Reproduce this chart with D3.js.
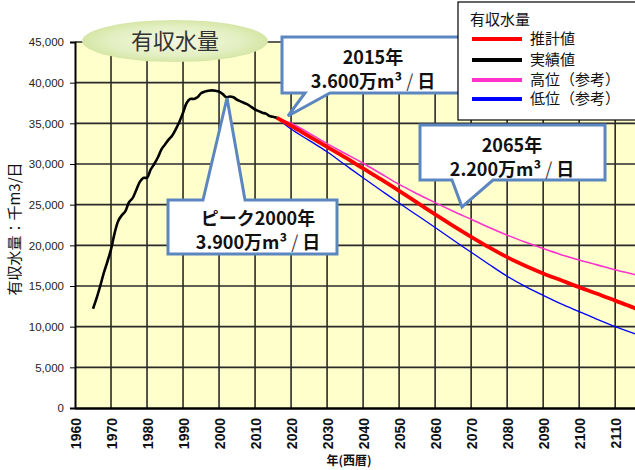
<!DOCTYPE html>
<html><head><meta charset="utf-8">
<script src="https://cdn.jsdelivr.net/npm/d3@7"></script>
<style>
html,body{margin:0;padding:0;background:#fff;}
svg{display:block;}
</style></head>
<body>
<script>
// ---- data ----
const actualYears = [1965,1966,1967,1968,1969,1970,1971,1972,1973,1974,1975,1976,1977,1978,1979,1980,1981,1982,1983,1984,1985,1986,1987,1988,1989,1990,1991,1992,1993,1994,1995,1996,1997,1998,1999,2000,2001,2002,2003,2004,2005,2006,2007,2008,2009,2010,2011,2012,2013,2014,2015,2016];
const actualValues = [12200,13500,15000,16600,18000,19500,21500,23000,23700,24200,25300,25800,26800,27800,28300,28300,29300,30000,30800,31800,32400,33000,33500,34300,35200,36300,37500,38000,38000,38200,38700,38900,39000,39050,39000,38900,38600,38200,38300,38200,37900,37700,37500,37300,37000,36700,36500,36300,36200,35900,35800,35700];
const projYears = [2016,2020,2025,2030,2035,2040,2045,2050,2055,2060,2065,2070,2075,2080,2085,2090,2095,2100,2105,2110,2115,2116];
const estimateValues = [35700,34700,33400,32100,30800,29450,28100,26700,25250,23800,22400,21050,19750,18550,17500,16550,15700,14850,14050,13200,12350,12150];
const highValues = [35700,35000,33800,32500,31300,30100,28800,27500,26350,25250,24200,23200,22200,21250,20400,19600,18850,18200,17600,17000,16450,16350];
const lowValues = [35700,34300,32900,31500,29900,28300,26750,25200,23700,22200,20650,19150,17650,16200,14950,13850,12800,11850,10900,10000,9200,9050];
const yTicks = [0,5000,10000,15000,20000,25000,30000,35000,40000,45000];
const xTicks = [1960,1970,1980,1990,2000,2010,2020,2030,2040,2050,2060,2070,2080,2090,2100,2110];
const legendLabels = ["推計値","実績値","高位（参考）","低位（参考）"];
const legendColors = ["#ff0000","#000000","#ff33cc","#0000ff"];

const W=635,H=470;
const svg=d3.select("body").append("svg").attr("width",W).attr("height",H);
const x=d3.scaleLinear().domain([1960,2115.5]).range([75,635]);
const y=d3.scaleLinear().domain([0,45000]).range([408,42]);

const defs=svg.append("defs");
defs.append("clipPath").attr("id","plotclip").append("rect")
  .attr("x",x(1960)).attr("y",y(45000)-2).attr("width",W-x(1960)).attr("height",y(0)-y(45000)+2);
const rg=defs.append("radialGradient").attr("id","ellg").attr("cx","50%").attr("cy","50%").attr("r","50%");
rg.append("stop").attr("offset","0%").attr("stop-color","#f3f8e0");
rg.append("stop").attr("offset","70%").attr("stop-color","#e3efc2");
rg.append("stop").attr("offset","100%").attr("stop-color","#d6e6a6");

// plot background
svg.append("rect").attr("x",x(1960)).attr("y",y(45000)).attr("width",W-x(1960)).attr("height",y(0)-y(45000)).attr("fill","#ffffcc");

// grid
const grid=svg.append("g").attr("stroke","#2a2a2a").attr("stroke-width",1.6);
grid.selectAll("line.h").data(yTicks.filter(d=>d>0)).join("line")
  .attr("x1",x(1960)).attr("x2",W).attr("y1",d=>y(d)).attr("y2",d=>y(d));
grid.selectAll("line.v").data(xTicks.filter(d=>d>1960)).join("line")
  .attr("x1",d=>x(d)).attr("x2",d=>x(d)).attr("y1",y(45000)).attr("y2",y(0));

// axes
const yAxis=svg.append("g").attr("transform",`translate(${x(1960)},0)`)
  .call(d3.axisLeft(y).tickValues(yTicks).tickSize(5).tickPadding(6).tickFormat(d3.format(",")));
yAxis.select(".domain").attr("stroke","#000").attr("stroke-width",2);
yAxis.selectAll(".tick line").attr("stroke","#000");
yAxis.selectAll("text").attr("font-family","Arial, 'Liberation Sans', sans-serif").attr("font-size",11.5).attr("fill","#222");

const xAxis=svg.append("g").attr("transform",`translate(0,${y(0)})`)
  .call(d3.axisBottom(x).tickValues(xTicks).tickSize(0).tickFormat(d3.format("d")));
xAxis.select(".domain").attr("stroke","#000").attr("stroke-width",2.5);
xAxis.selectAll("text").attr("font-family","Arial, 'Liberation Sans', sans-serif").attr("font-size",14).attr("font-weight","bold").attr("fill","#111")
  .attr("text-anchor","end").attr("transform","rotate(-90)").attr("x",-10).attr("y",0).attr("dy","0.36em");

// axis titles
svg.append("text").attr("transform",`translate(20,229) rotate(-90)`).attr("text-anchor","middle")
  .attr("font-family","'Noto Sans CJK JP', sans-serif").attr("font-size",15).attr("fill","#111").text("有収水量：千m3/日");
svg.append("text").attr("x",349).attr("y",465).attr("text-anchor","middle")
  .attr("font-family","'Noto Sans CJK JP', sans-serif").attr("font-size",12).attr("font-weight","bold").attr("fill","#111").text("年(西暦)");

// lines
const line=d3.line().x(d=>x(d[0])).y(d=>y(d[1])).curve(d3.curveMonotoneX);
const lines=svg.append("g").attr("clip-path","url(#plotclip)").attr("fill","none").attr("stroke-linejoin","round");
lines.append("path").datum(projYears.map((t,i)=>[t,highValues[i]])).attr("d",line).attr("stroke","#ff33cc").attr("stroke-width",1.6);
lines.append("path").datum(projYears.map((t,i)=>[t,lowValues[i]])).attr("d",line).attr("stroke","#0000ff").attr("stroke-width",1.3);
lines.append("path").datum(projYears.map((t,i)=>[t,estimateValues[i]])).attr("d",line).attr("stroke","#ff0000").attr("stroke-width",3.8);
lines.append("path").datum(actualYears.map((t,i)=>[t,actualValues[i]])).attr("d",d3.line().x(d=>x(d[0])).y(d=>y(d[1])).curve(d3.curveCatmullRom)).attr("stroke","#000").attr("stroke-width",2.6);

// title ellipse
svg.append("ellipse").attr("cx",175).attr("cy",41).attr("rx",93).attr("ry",21).attr("fill","url(#ellg)");
svg.append("text").attr("x",175).attr("y",49).attr("text-anchor","middle")
  .attr("font-family","'Noto Sans CJK JP', sans-serif").attr("font-size",22).attr("fill","#333").text("有収水量");

// callouts
const cs="#5b86bf";
function callout(pts,txt){
  svg.append("path").attr("d","M"+pts.map(p=>p.join(",")).join("L")+"Z")
    .attr("fill","#fff").attr("stroke",cs).attr("stroke-width",3).attr("stroke-linejoin","miter");
  const mk=(cx,cy)=>svg.append("text").attr("x",cx).attr("y",cy).attr("text-anchor","middle")
      .attr("font-family","'Noto Sans CJK JP', sans-serif").attr("font-weight","bold").attr("font-size",18)
      .attr("fill","#111");
  mk(txt[0],txt[1]).text(txt[2]);
  const t2=mk(txt[0],txt[3]);
  t2.append("tspan").text(txt[4]);
  t2.append("tspan").attr("font-weight","normal").attr("fill","#444").text(" / ");
  t2.append("tspan").text("日");
}
// 2015 callout
callout([[282,37],[475,37],[475,93],[330,93],[288,116],[305,93],[282,93]],
  [373,64,"2015年",88,"3.600万m³"]);
// peak callout
callout([[168,200],[203,200],[227,98],[245,200],[337,200],[337,254],[168,254]],
  [258,225,"ピーク2000年",249,"3.900万m³"]);
// 2065 callout
callout([[420,125],[605,125],[605,180],[493,180],[462,207],[452,180],[420,180]],
  [512,152,"2065年",176,"2.200万m³"]);

// legend
const lg=svg.append("g");
lg.append("rect").attr("x",458).attr("y",2).attr("width",190).attr("height",118).attr("fill","#fff").attr("stroke","#000").attr("stroke-width",1.2);
lg.append("text").attr("x",470).attr("y",25).attr("font-family","'Noto Sans CJK JP', sans-serif").attr("font-size",15).attr("fill","#111").text("有収水量");
const rowsY=[39,60,80,99];
legendLabels.forEach((lab,i)=>{
  lg.append("line").attr("x1",472).attr("x2",522).attr("y1",rowsY[i]).attr("y2",rowsY[i]).attr("stroke",legendColors[i]).attr("stroke-width",4);
  lg.append("text").attr("x",530).attr("y",rowsY[i]+5).attr("font-family","'Noto Sans CJK JP', sans-serif").attr("font-size",15).attr("fill","#111").text(lab);
});
</script>
</body></html>
